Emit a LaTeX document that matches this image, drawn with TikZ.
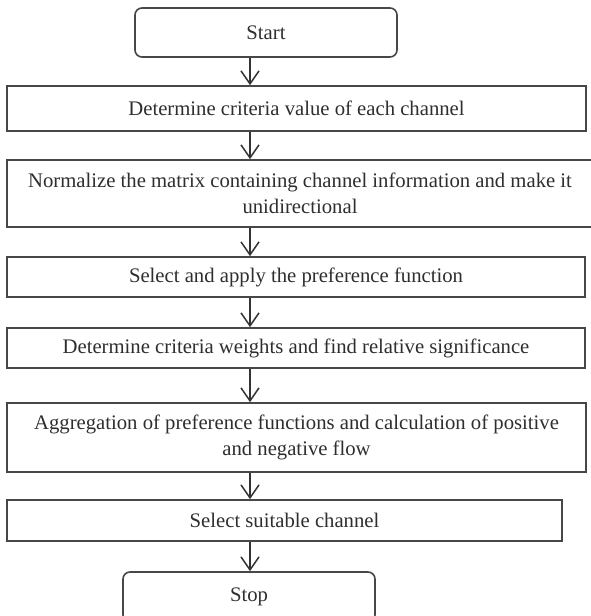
\documentclass[tikz,border=0pt]{standalone}
\usepackage{fontspec}
\setmainfont{Liberation Serif}
\usetikzlibrary{arrows.meta}
\begin{document}
\begin{tikzpicture}[x=1pt,y=1pt,
  box/.style={draw=black!72, line width=1.6pt, rectangle, align=center, inner sep=0pt,
    font=\fontsize{20.7}{26}\selectfont, text=black!82},
  term/.style={box, rounded corners=7pt},
  arr/.style={draw=black!80, line width=1.5pt, -{Straight Barb[length=13pt,width=18pt,line width=1.5pt]}}]
\useasboundingbox (0,0) rectangle (590,616);
\node[term, minimum width=262pt, minimum height=49pt] (start) at (266,583.5) {Start};
\node[box, minimum width=579pt, minimum height=45pt] (b2) at (296.5,507.5) {Determine criteria value of each channel};
\node[box, minimum width=586pt, minimum height=67pt] (b3) at (300,422.5) {Normalize the matrix containing channel information and make it\\unidirectional};
\node[box, minimum width=578pt, minimum height=40pt] (b4) at (296,339) {Select and apply the preference function};
\node[box, minimum width=578pt, minimum height=40pt] (b5) at (296,268) {Determine criteria weights and find relative significance};
\node[box, minimum width=579pt, minimum height=69pt] (b6) at (296.5,178.5) {Aggregation of preference functions and calculation of positive\\and negative flow};
\node[box, minimum width=555pt, minimum height=41pt] (b7) at (284.5,95.5) {Select suitable channel};
\node[term, minimum width=252pt, minimum height=50pt] (stop) at (249,19) {Stop};
\coordinate (ax) at (250,0);
\draw[arr] (start.south -| ax) -- (b2.north -| ax);
\draw[arr] (b2.south -| ax) -- (b3.north -| ax);
\draw[arr] (b3.south -| ax) -- (b4.north -| ax);
\draw[arr] (b4.south -| ax) -- (b5.north -| ax);
\draw[arr] (b5.south -| ax) -- (b6.north -| ax);
\draw[arr] (b6.south -| ax) -- (b7.north -| ax);
\draw[arr] (b7.south -| ax) -- (stop.north -| ax);
\end{tikzpicture}
\end{document}
